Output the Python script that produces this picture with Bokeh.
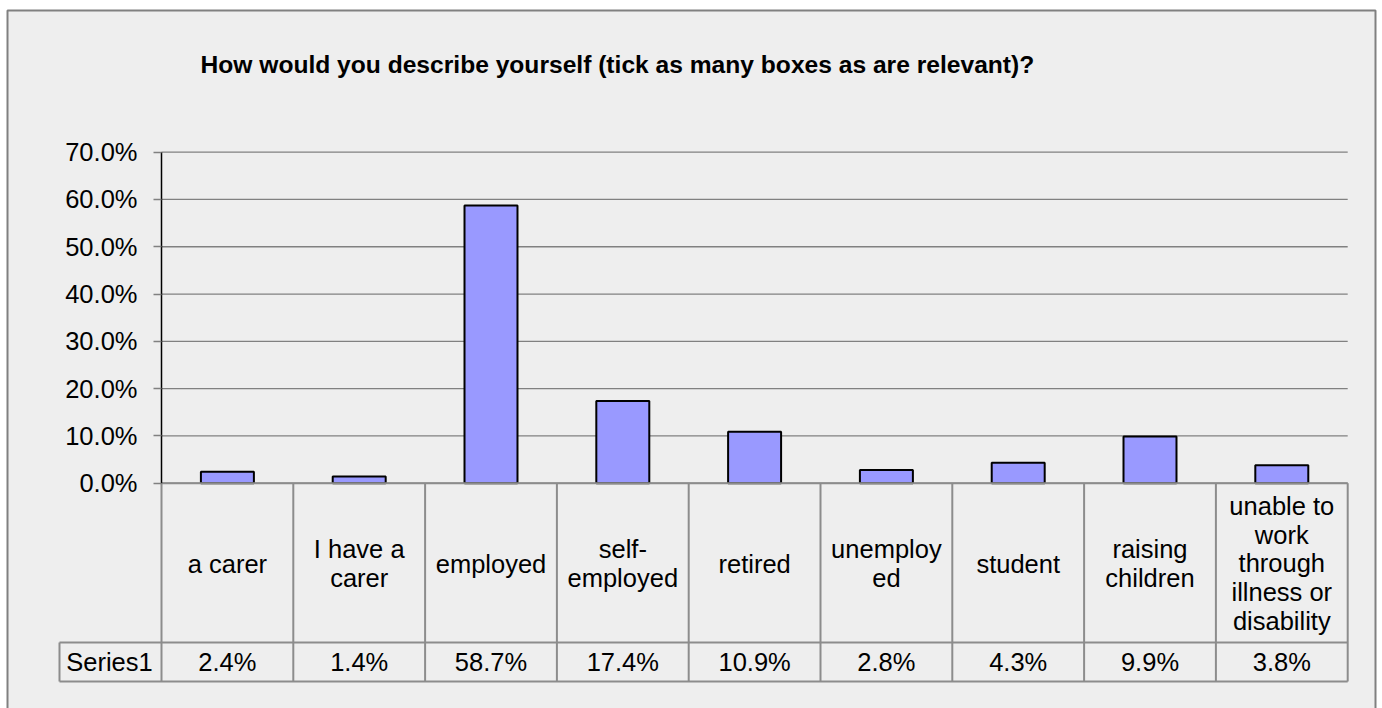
from bokeh.plotting import figure
from bokeh.models import Range1d, FixedTicker, NumeralTickFormatter
from bokeh.core.properties import value
from bokeh.embed import file_html
from bokeh.resources import INLINE

# ---------------- data ----------------
categories = [
    "a carer",
    "I have a\ncarer",
    "employed",
    "self-\nemployed",
    "retired",
    "unemploy\ned",
    "student",
    "raising\nchildren",
    "unable to\nwork\nthrough\nillness or\ndisability",
]
series_name = "Series1"
series1 = [2.4, 1.4, 58.7, 17.4, 10.9, 2.8, 4.3, 9.9, 3.8]  # percent
y_ticks = [0, 10, 20, 30, 40, 50, 60, 70]                   # percent
title_text = "How would you describe yourself (tick as many boxes as are relevant)?"

# ---------------- layout helpers (pixel -> data) ----------------
W, H = 1382, 708
X0, COLW = 161.0, 131.8      # left edge of plot area, width of one category
Y0, PXPCT = 482.7, 4.729     # pixel row of 0 %, pixels per percent


def dx(px):
    return (px - X0) / COLW


def dy(py):
    return (Y0 - py) / PXPCT / 100.0


FONT = value("Liberation Sans")
FS = "25.5px"
GRID = "#808080"
TABLE = "#8c8c8c"

n = len(categories)
centers = [i + 0.5 for i in range(n)]
fractions = [v / 100.0 for v in series1]
tick_fr = [t / 100.0 for t in y_ticks]

p = figure(
    width=W, height=H,
    x_range=Range1d(dx(0), dx(W)),
    y_range=Range1d(dy(H), dy(0)),
    output_backend="svg",
    toolbar_location=None,
    min_border=0,
    x_axis_location=None,
    y_axis_location="left",
    background_fill_color="white",
    border_fill_color="white",
    outline_line_color=None,
)
p.grid.visible = False

# chart area background with border
p.quad(left=[dx(7)], right=[dx(1375)], top=[dy(10)], bottom=[dy(730)],
       fill_color="#EEEEEE", line_color=GRID, line_width=2)

# gridlines
p.segment(x0=[0] * len(tick_fr), x1=[n] * len(tick_fr), y0=tick_fr, y1=tick_fr,
          line_color=GRID, line_width=1.3)

# bars
p.vbar(x=centers, top=fractions, bottom=0, width=0.402,
       fill_color="#9999FF", line_color="black", line_width=2)

# data table lines
row1_bottom = dy(642)
row2_bottom = dy(681)
p.segment(x0=[0], x1=[n], y0=[0], y1=[0], line_color=TABLE, line_width=2)
p.segment(x0=list(range(n + 1)), x1=list(range(n + 1)),
          y0=[0] * (n + 1), y1=[row2_bottom] * (n + 1),
          line_color=TABLE, line_width=2)
p.segment(x0=[dx(59), dx(59)], x1=[n, n], y0=[row1_bottom, row2_bottom],
          y1=[row1_bottom, row2_bottom], line_color=TABLE, line_width=2)
p.segment(x0=[dx(59)], x1=[dx(59)], y0=[row1_bottom], y1=[row2_bottom],
          line_color=TABLE, line_width=2)

# value axis line
p.segment(x0=[0], x1=[0], y0=[0], y1=[max(tick_fr)], line_color="black", line_width=1.5)

# title
p.text(x=[dx(200)], y=[dy(64)], text=[title_text], text_font=FONT,
       text_font_style="bold", text_font_size="24.6px", text_color="black",
       text_align="left", text_baseline="alphabetic")

# category labels in table
p.text(x=centers, y=[dy(563)] * n, text=categories, text_font=FONT,
       text_font_size=FS, text_color="black", text_align="center",
       text_baseline="middle", text_line_height=1.03)

# values row
p.text(x=centers, y=[dy(661.5)] * n, text=[f"{v:.1f}%" for v in series1],
       text_font=FONT, text_font_size=FS, text_color="black",
       text_align="center", text_baseline="middle")
p.text(x=[dx(109)], y=[dy(661.5)], text=[series_name], text_font=FONT,
       text_font_size=FS, text_color="black", text_align="center",
       text_baseline="middle")

# y axis
ax = p.yaxis[0]
ax.fixed_location = 0
ax.ticker = FixedTicker(ticks=tick_fr)
ax.formatter = NumeralTickFormatter(format="0.0%")
ax.major_label_text_font = "Liberation Sans"
ax.major_label_text_font_size = FS
ax.major_label_text_color = "black"
ax.major_tick_out = 8
ax.major_tick_in = 0
ax.major_tick_line_color = GRID
ax.major_tick_line_width = 1.3
ax.minor_tick_line_color = None
ax.axis_line_color = None
ax.major_label_standoff = 16

open("out.html", "w").write(file_html(p, INLINE))
